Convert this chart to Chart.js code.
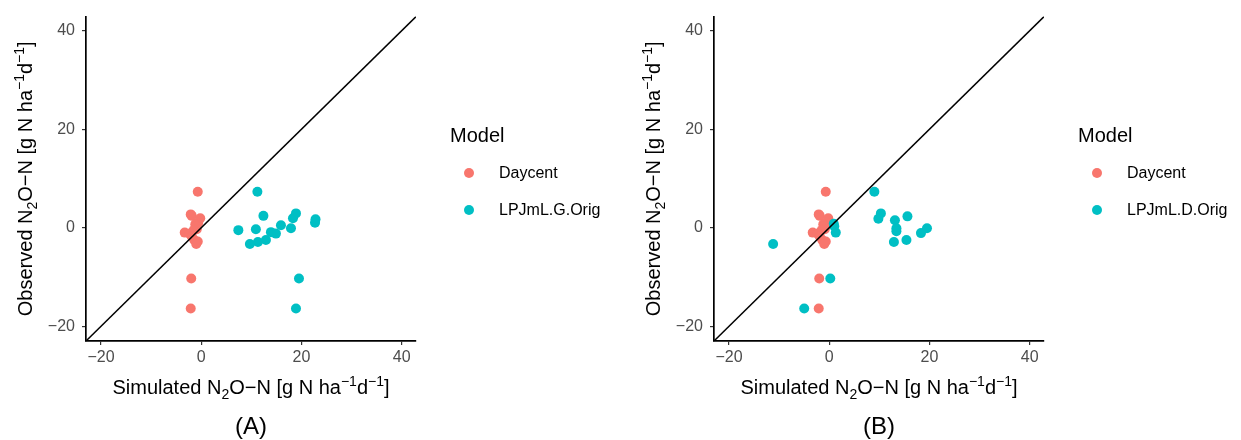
<!DOCTYPE html>
<html>
<head>
<meta charset="utf-8">
<script src="https://cdn.jsdelivr.net/npm/chart.js@4"></script>
<style>
  html, body { margin: 0; padding: 0; background: #fff; overflow: hidden; }
  .panel { position: absolute; top: 0; width: 613px; height: 440px; }
</style>
</head>
<body>
<div class="panel" style="left:0"><canvas id="panelA" width="613" height="440"></canvas></div>
<div class="panel" style="left:628px"><canvas id="panelB" width="613" height="440"></canvas></div>
<script>
// Daycent: same in both panels
const daycentSim = [-0.7, -2.1, -1.9, -0.2, -0.6, -1.2, -1.0, -0.9, -1.5, -3.3, -2.3, -1.9, -1.4, -0.7, -1.0, -2.0, -2.1];
const daycentObs = [7.3, 2.7, 2.4, 1.9, 1.0, 0.7, 0.3, -0.3, -0.5, -1.0, -1.2, -1.8, -2.5, -2.8, -3.3, -10.3, -16.4];

// LPJmL.G.Orig (panel A)
const lpjGSim = [11.2, 18.9, 12.4, 18.3, 22.8, 22.7, 15.9, 17.9, 10.9, 7.4, 13.9, 14.9, 12.9, 11.3, 9.7, 19.5, 18.9];
const lpjGObs = [7.3, 2.9, 2.4, 1.9, 1.7, 1.0, 0.5, -0.1, -0.3, -0.5, -0.9, -1.2, -2.5, -2.9, -3.3, -10.3, -16.4];

// LPJmL.D.Orig (panel B)
const lpjDSim = [9.0, 10.3, 15.6, 9.8, 13.1, 0.9, 1.0, 19.5, 13.4, 13.4, 1.3, 18.3, 15.4, 12.9, -11.2, 0.2, -5.0];
const lpjDObs = [7.3, 2.9, 2.3, 1.8, 1.5, 0.8, 0.3, -0.1, -0.1, -0.7, -1.0, -1.1, -2.5, -2.9, -3.3, -10.3, -16.4];

// 1:1 line and axes
const oneToOne = [-30, 50];
const tickValues = [-20, 0, 20, 40];
const axisMin = -23, axisMax = 42.85;

const FAMILY = '"Liberation Sans", Arial, Helvetica, sans-serif';
const xTitleParts = [['Simulated N'], ['2', 'sub'], ['O\u2212N [g N ha'], ['\u22121', 'sup'], ['d'], ['\u22121', 'sup'], [']']];
const yTitleParts = [['Observed N'], ['2', 'sub'], ['O\u2212N [g N ha'], ['\u22121', 'sup'], ['d'], ['\u22121', 'sup'], [']']];

const toPoints = (xs, ys) => xs.map((x, i) => ({ x: x, y: ys[i] }));
const fmt = v => (v < 0 ? '\u2212' + Math.abs(v) : String(v));

// text with sub/superscripts, centred on (cx, cy)
function drawRich(ctx, parts, cx, cy, size) {
  const fontOf = p => (p[1] ? Math.round(size * 0.72) : size) + 'px ' + FAMILY;
  let total = 0;
  parts.forEach(p => { ctx.font = fontOf(p); total += ctx.measureText(p[0]).width; });
  let x = cx - total / 2;
  const base = cy + size * 0.36;
  ctx.textAlign = 'left';
  ctx.textBaseline = 'alphabetic';
  parts.forEach(p => {
    ctx.font = fontOf(p);
    const dy = p[1] === 'sub' ? size * 0.24 : p[1] === 'sup' ? -size * 0.42 : 0;
    ctx.fillText(p[0], x, base + dy);
    x += ctx.measureText(p[0]).width;
  });
}

const decorations = {
  id: 'decorations',
  afterDraw(chart, args, opts) {
    const { ctx, chartArea } = chart;
    const cx = (chartArea.left + chartArea.right) / 2;
    const cy = (chartArea.top + chartArea.bottom) / 2;
    ctx.save();
    ctx.fillStyle = '#000';
    // axis titles
    drawRich(ctx, xTitleParts, cx, 387, 20);
    ctx.save();
    ctx.translate(25, cy);
    ctx.rotate(-Math.PI / 2);
    drawRich(ctx, yTitleParts, 0, 0, 20);
    ctx.restore();
    // caption
    ctx.font = '24px ' + FAMILY;
    ctx.textAlign = 'center';
    ctx.textBaseline = 'middle';
    ctx.fillText(opts.caption, cx, 427);
    // legend
    const lx = chartArea.right;
    ctx.textAlign = 'left';
    ctx.font = '20px ' + FAMILY;
    ctx.fillText('Model', lx + 34, 136);
    ctx.font = '16px ' + FAMILY;
    const items = chart.data.datasets.filter(ds => !ds.showLine)
      .sort((a, b) => b.order - a.order);
    items.forEach((ds, i) => {
      const y = 173 + i * 37;
      ctx.fillStyle = ds.backgroundColor;
      ctx.beginPath();
      ctx.arc(lx + 53, y, ds.pointRadius, 0, Math.PI * 2);
      ctx.fill();
      ctx.fillStyle = '#000';
      ctx.fillText(ds.label, lx + 83, y + 1);
    });
    ctx.restore();
  }
};

function axisOptions(isX) {
  return {
    type: 'linear',
    min: axisMin,
    max: axisMax,
    afterBuildTicks: s => { s.ticks = tickValues.map(v => ({ value: v })); },
    afterFit: s => { if (isX) s.height = 99; else s.width = 86; },
    grid: { drawOnChartArea: false, drawTicks: true, tickLength: 4, color: '#333333', lineWidth: 1.2 },
    border: { display: true, color: '#000', width: 1.7 },
    ticks: { color: '#4d4d4d', font: { size: 16, family: FAMILY }, padding: isX ? 3 : 7, maxRotation: 0, callback: fmt },
    title: { display: false }
  };
}

function makePanel(id, lpjLabel, lpjSim, lpjObs, caption) {
  const ctx = document.getElementById(id).getContext('2d');
  new Chart(ctx, {
    type: 'scatter',
    data: {
      datasets: [
        {
          label: '1:1',
          data: toPoints(oneToOne, oneToOne),
          showLine: true,
          borderColor: '#000',
          borderWidth: 1.5,
          pointRadius: 0,
          order: 0,
        },
        {
          label: lpjLabel,
          data: toPoints(lpjSim, lpjObs),
          backgroundColor: '#00BFC4',
          pointRadius: 5,
          pointBorderWidth: 0,
          order: 1,
        },
        {
          label: 'Daycent',
          data: toPoints(daycentSim, daycentObs),
          backgroundColor: '#F8766D',
          pointRadius: 5,
          pointBorderWidth: 0,
          order: 2,
        },
      ],
    },
    options: {
      responsive: false,
      animation: false,
      events: [],
      layout: { padding: { left: 0, top: 11, right: 613 - 416, bottom: 0 } },
      plugins: {
        legend: { display: false },
        tooltip: { enabled: false },
        decorations: { caption: caption },
      },
      scales: {
        x: axisOptions(true),
        y: axisOptions(false),
      },
    },
    plugins: [decorations],
  });
}

makePanel('panelA', 'LPJmL.G.Orig', lpjGSim, lpjGObs, '(A)');
makePanel('panelB', 'LPJmL.D.Orig', lpjDSim, lpjDObs, '(B)');
</script>
</body>
</html>
